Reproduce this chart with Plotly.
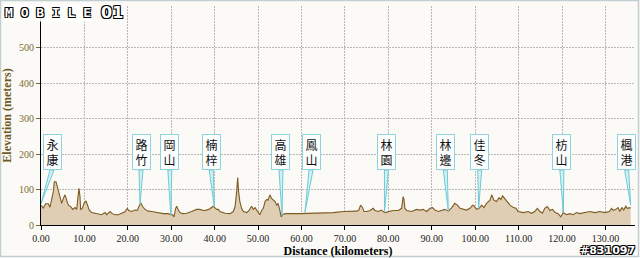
import plotly.graph_objects as go

# ---------------- data ----------------
dist_km = [0, 0.54, 1.07, 1.69, 2.07, 2.46, 2.84, 3.07, 3.45, 3.76, 4.07, 4.38, 4.76, 5.14, 5.53,
           5.91, 6.3, 6.84, 7.3, 7.83, 8.22, 8.52, 8.75, 8.98, 9.13, 9.52, 9.9, 10.36, 10.67, 11.13,
           11.67, 12.43, 13.2, 13.97, 14.74, 15.12, 15.89, 16.42, 17.04, 17.81, 18.57, 19.34, 19.88,
           20.19, 20.88, 21.64, 22.18, 22.64, 23.03, 23.41, 23.95, 24.71, 25.48, 26.25, 27.02, 28.17,
           29.32, 29.86, 30.32, 30.62, 31.01, 31.24, 31.62, 32.0, 32.62, 33.54, 34.69, 35.84, 36.6,
           37.37, 38.14, 38.9, 39.67, 40.06, 40.45, 40.83, 41.2, 42.4, 43.5, 44.3, 44.7, 45.06, 45.3,
           45.5, 45.8, 46.2, 46.6, 47.4, 47.96, 48.5, 48.9, 49.3, 49.7, 50.0, 50.4, 50.8, 51.2, 51.6,
           51.97, 52.3, 52.7, 53.1, 53.5, 53.9, 54.3, 54.6, 55.0, 55.3, 55.6, 56.2, 59.6, 63.5, 67.3,
           69.6, 72.7, 73.2, 73.6, 74.0, 74.4, 75.0, 75.8, 76.5, 76.9, 77.7, 78.4, 79.2, 80.0, 81.1,
           82.3, 83.05, 83.4, 83.6, 83.8, 84.2, 85.4, 86.5, 87.3, 88.0, 88.8, 89.6, 90.2, 90.7, 91.5,
           92.3, 93.0, 93.8, 94.6, 95.3, 95.9, 96.5, 97.2, 98.0, 98.8, 99.4, 99.8, 100.3, 100.9,
           101.5, 102.0, 102.6, 103.4, 103.8, 104.3, 104.9, 105.5, 105.9, 106.3, 106.8, 107.4, 108.0,
           108.8, 109.4, 109.9, 111.1, 112.2, 113.0, 113.7, 114.3, 114.9, 115.5, 116.0, 116.6, 117.2,
           117.8, 118.4, 119.1, 119.7, 120.3, 121.0, 121.8, 122.6, 123.3, 124.1, 125.3, 126.4, 127.6,
           128.7, 129.9, 130.9, 131.4, 131.8, 132.4, 132.9, 133.3, 133.8, 134.2, 134.7, 135.0, 135.8]
elev_m = [55, 48, 60, 60, 50, 70, 94, 122, 122, 108, 94, 80, 61, 75, 85,
          70, 56, 52, 44, 49, 44, 80, 103, 80, 44, 46, 61, 68, 56, 42,
          35, 33, 32, 29, 35, 29, 38, 32, 29, 29, 33, 37, 47,
          41, 38, 42, 41, 55, 61, 52, 44, 39, 38, 36, 33, 32,
          32, 29, 29, 23, 47, 53, 42, 35, 32, 33, 38, 44, 44,
          41, 42, 46, 53, 49, 44, 44, 38, 33, 32, 38, 52, 94, 134,
          94, 66, 47, 38, 35, 42, 53, 44, 49, 41, 38, 29, 41, 47, 66,
          72, 70, 85, 75, 70, 66, 56, 61, 42, 23, 29, 32, 32, 33, 35,
          38, 39, 42, 56, 50, 38, 38, 41, 47, 41, 38, 42, 35, 38, 41,
          41, 47, 80, 72, 47, 41, 38, 44, 42, 44, 38, 47, 49, 42, 38,
          42, 44, 39, 49, 61, 56, 47, 44, 42, 47, 56, 53, 44, 47,
          56, 49, 61, 70, 85, 70, 66, 77, 72, 82, 75, 66, 56,
          49, 47, 38, 35, 38, 33, 38, 47, 38, 33, 47, 52, 41,
          44, 35, 32, 23, 35, 29, 32, 29, 35, 32, 35, 38, 35,
          38, 35, 38, 47, 41, 44, 49, 38, 49, 42, 53, 47, 49]

place_names = ["永康", "路竹", "岡山", "楠梓", "高雄", "鳳山", "林園", "林邊", "佳冬", "枋山", "楓港"]
place_km = [0.0, 22.8, 29.9, 39.9, 55.5, 60.8, 79.1, 93.8, 100.8, 120.3, 135.8]
place_elev = [60, 58, 29, 52, 27, 36, 36, 40, 47, 35, 56]

x_tick_vals = [0, 10, 20, 30, 40, 50, 60, 70, 80, 90, 100, 110, 120, 130]
y_tick_vals = [0, 100, 200, 300, 400, 500]

# ---------------- layout constants ----------------
W, H = 640, 258
ML, MR, MT, MB = 41, 5, 6, 33
PW, PH = W - ML - MR, H - MT - MB
XMIN, XMAX = 0, 136.8
YMIN, YMAX = 0, 617
px_per_km = PW / (XMAX - XMIN)
px_per_m = PH / (YMAX - YMIN)
box_dx_px = [11, 1, -1, -3, -1, 6, 2, -3, 1, -1.5, -4]   # label box offset from tip
BOX_CY_PX = 152          # label box centre (page px)
BOX_HALF_H = 18
WEDGE_HALF_W = 2.0

def py_to_elev(py):
    return (MT + PH - py) / px_per_m

def px_to_paper_x(px):
    return (px - ML) / PW

def py_to_paper_y(py):
    return (MT + PH - py) / PH

fig = go.Figure()
fig.add_trace(go.Scatter(
    x=dist_km, y=elev_m, mode="lines", fill="tozeroy",
    line=dict(color="#7d5c22", width=1.1),
    fillcolor="#dfcdb4", hoverinfo="skip", showlegend=False))

shapes = []
annotations = []
box_cy = py_to_elev(BOX_CY_PX)
box_bottom = py_to_elev(BOX_CY_PX + BOX_HALF_H)
for name, km, el, dx in zip(place_names, place_km, place_elev, box_dx_px):
    bx = km + dx / px_per_km
    hw = WEDGE_HALF_W / px_per_km
    shapes.append(dict(
        type="path", xref="x", yref="y",
        path=f"M {bx - hw},{box_bottom} L {bx + hw},{box_bottom} L {km},{el} Z",
        fillcolor="#d3f0f3", line=dict(color="#6fcad6", width=1), layer="above"))
    annotations.append(dict(
        x=bx, y=box_cy, xref="x", yref="y", showarrow=False,
        text="<br>".join(list(name)), align="center",
        font=dict(family="Noto Sans CJK TC", size=12, color="#111111"),
        bgcolor="#fcfefe", bordercolor="#8fd3dd", borderwidth=1, borderpad=1,
        width=15, height=32, xanchor="center", yanchor="middle"))

# frame around the picture
shapes.append(dict(type="rect", xref="paper", yref="paper", layer="above",
                   x0=px_to_paper_x(0.5), x1=px_to_paper_x(W - 1.5),
                   y0=py_to_paper_y(H - 1.5), y1=py_to_paper_y(0.5),
                   line=dict(color="#c3ced3", width=1.5)))

outline = "1px 1px 0 #000, -1px -1px 0 #000, 1px -1px 0 #000, -1px 1px 0 #000"
annotations.append(dict(
    x=px_to_paper_x(3), y=py_to_paper_y(12), xref="paper", yref="paper",
    xanchor="left", yanchor="middle", showarrow=False, text="M O B I L E",
    font=dict(family="DejaVu Sans Mono", size=13, color="white", weight="bold", shadow=outline),
    bgcolor="rgba(255,255,255,0.9)"))
annotations.append(dict(
    x=px_to_paper_x(112), y=py_to_paper_y(12), xref="paper", yref="paper",
    xanchor="center", yanchor="middle", showarrow=False, text="01",
    font=dict(family="DejaVu Sans", size=16, color="white", weight="bold", shadow=outline)))
annotations.append(dict(
    x=px_to_paper_x(637), y=py_to_paper_y(250), xref="paper", yref="paper",
    xanchor="right", yanchor="middle", showarrow=False, text="#831097",
    font=dict(family="DejaVu Sans", size=11, color="white", weight="bold", shadow=outline)))

fig.update_layout(
    width=W, height=H, margin=dict(l=ML, r=MR, t=MT, b=MB, autoexpand=False),
    paper_bgcolor="#fbfaf6", plot_bgcolor="#fbfaf6",
    shapes=shapes, annotations=annotations, showlegend=False,
    xaxis=dict(range=[XMIN, XMAX], tickvals=x_tick_vals, tickformat=".2f",
               showgrid=True, gridcolor="#b8b8b8", griddash="2px,1px", gridwidth=1,
               showline=True, linecolor="#000", linewidth=1, zeroline=False,
               ticks="outside", ticklen=4, tickcolor="#000",
               tickfont=dict(family="Liberation Serif", size=10, color="#222"),
               title=dict(text="<b>Distance (kilometers)</b>", standoff=3,
                          font=dict(family="Liberation Serif", size=12, color="#000"))),
    yaxis=dict(range=[YMIN, YMAX], tickvals=y_tick_vals,
               showgrid=True, gridcolor="#b8b8b8", griddash="2px,1px", gridwidth=1,
               showline=True, linecolor="#000", linewidth=1, zeroline=False,
               ticks="outside", ticklen=4, tickcolor="#7a6a30",
               tickfont=dict(family="Liberation Serif", size=10, color="#7a6a30"),
               title=dict(text="<b>Elevation (meters)</b>", standoff=4,
                          font=dict(family="Liberation Serif", size=12, color="#6e5a24"))),
)

fig.write_html("out.html")
